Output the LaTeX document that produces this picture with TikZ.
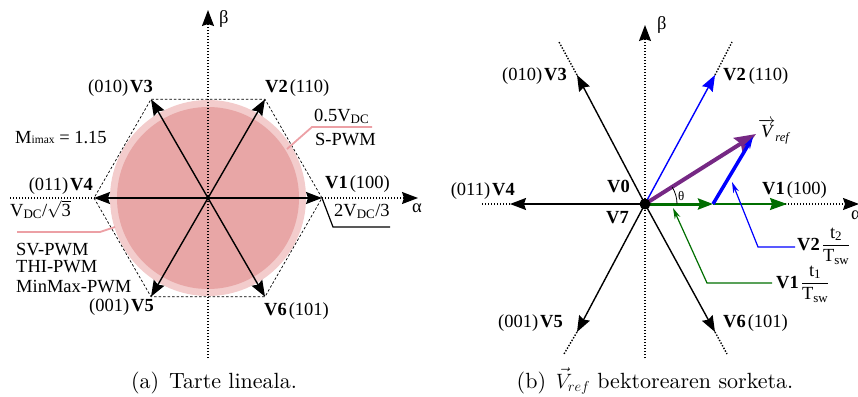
\documentclass[tikz,border=0pt]{standalone}
\usepackage{fontspec}
\usetikzlibrary{arrows.meta}
\newfontfamily\tnr{Liberation Serif}
\newfontfamily\lmten{lmroman10-regular.otf}
\definecolor{pinkin}{RGB}{232,166,166}
\definecolor{pinkout}{RGB}{243,204,204}
\definecolor{pinkline}{RGB}{236,160,165}
\definecolor{vgreen}{RGB}{0,110,0}
\definecolor{vpurple}{RGB}{118,40,132}
\newcommand\lblfont{\fontsize{18.5}{22}\selectfont\tnr}
\begin{document}
\begin{tikzpicture}[x=1pt,y=-1pt,
  lbl/.style={font=\lblfont, inner sep=0pt},
  captxt/.style={font=\fontsize{22}{25}\selectfont\lmten, inner sep=0pt},
  vec/.style={line width=1.4pt,-{Stealth[length=16pt,width=12pt,inset=2pt]}},
  axisline/.style={line width=1.4pt, dash pattern=on 1.4pt off 1.6pt},
  axisarrow/.style={axisline,-{Stealth[length=16pt,width=12pt,inset=2pt]}},
  hexline/.style={line width=0.7pt, dash pattern=on 2.5pt off 2pt},
  callout/.style={line width=1.8pt, pinkline},
  smallhead/.style={-{Stealth[length=11pt,width=6pt]}},
]
\useasboundingbox (0,0) rectangle (858,396);
% ---------------- left diagram ----------------
\coordinate (C1) at (208,198);
\fill[pinkout] (C1) circle[radius=98];
\fill[pinkin] (C1) circle[radius=91];
\coordinate (H1) at (322,198);
\coordinate (H2) at (265,99.3);
\coordinate (H3) at (151,99.3);
\coordinate (H4) at (94,198);
\coordinate (H5) at (151,296.7);
\coordinate (H6) at (265,296.7);
\draw[hexline] (H1)--(H2)--(H3)--(H4)--(H5)--(H6)--cycle;
\coordinate (A1l) at (10,198);
\coordinate (A1r) at (418,198);
\coordinate (B1b) at (208,358);
\coordinate (B1t) at (208,10);
\draw[axisarrow] (A1l) -- (A1r);
\draw[axisarrow] (B1b) -- (B1t);
\foreach \h in {H1,H2,H3,H4,H5,H6} \draw[vec] (C1) -- (\h);
\coordinate (P1a) at (372,127);
\coordinate (P1b) at (312,127);
\coordinate (P1c) at (287,149);
\draw[callout] (P1a) -- (P1b) -- (P1c);
\coordinate (P2a) at (17,232);
\coordinate (P2b) at (100,232);
\coordinate (P2c) at (115,227);
\draw[callout] (P2a) -- (P2b) -- (P2c);
\coordinate (K1) at (333,227);
\coordinate (K2) at (390,227);
\draw[line width=1.2pt] (H1) -- (K1) -- (K2);
\node[lbl, anchor=base east] (l3) at (153,92) {(010)\hspace{2pt}\textbf{V3}};
\node[lbl, anchor=base west] (l2) at (265,92) {\textbf{V2}\hspace{2pt}(110)};
\node[lbl, anchor=base west] (l05) at (314,121) {0.5V\textsubscript{DC}};
\node[lbl, anchor=base west] (lspwm) at (315,145) {S-PWM};
\node[lbl, anchor=base west] (lm) at (15,143) {M{\fontsize{11.5}{11.5}\selectfont imax} = 1.15};
\node[lbl, anchor=base east] (l4) at (93,190) {(011)\hspace{2pt}\textbf{V4}};
\node[lbl, anchor=base west] (l1) at (325,188) {\textbf{V1}\hspace{2pt}(100)};
\node[lbl, anchor=base west] (lvdc) at (10,216) {V\textsubscript{DC}/$\sqrt{\mbox{3}}$};
\node[lbl, anchor=base west] (lsv) at (16,255) {SV-PWM};
\node[lbl, anchor=base west] (lthi) at (16,272) {THI-PWM};
\node[lbl, anchor=base west] (lmm) at (16,292) {MinMax-PWM};
\node[lbl, anchor=base west] (l2v) at (334,216) {2V\textsubscript{DC}/3};
\node[lbl, anchor=base east] (l5) at (154,311) {(001)\hspace{2pt}\textbf{V5}};
\node[lbl, anchor=base west] (l6) at (264,315) {\textbf{V6}\hspace{2pt}(101)};
\node[lbl, anchor=base west] (lb1) at (219,24) {β};
\node[lbl, anchor=base west] (la1) at (412,212) {α};
\node[captxt, anchor=base] (capa) at (214,388) {(a)\hspace{0.45em}Tarte lineala.};
% ---------------- right diagram ----------------
\coordinate (C2) at (645,204);
\coordinate (A2l) at (482,204);
\coordinate (A2r) at (859,204);
\coordinate (B2b) at (645,358);
\coordinate (B2t) at (645,25);
\draw[axisarrow] (A2l) -- (A2r);
\draw[axisarrow] (B2b) -- (B2t);
\coordinate (V4t) at (510,204);
\coordinate (V3t) at (577,75);
\coordinate (V3e) at (559,42);
\coordinate (V2t) at (715,75);
\coordinate (V2e) at (732,42);
\coordinate (V5t) at (577,332);
\coordinate (V5e) at (564,354);
\coordinate (V6t) at (715,332);
\coordinate (V6e) at (727,354);
\draw[axisline] (V3t) -- (V3e);
\draw[axisline] (V2t) -- (V2e);
\draw[axisline] (V5t) -- (V5e);
\draw[axisline] (V6t) -- (V6e);
\draw[vec] (C2) -- (V4t);
\draw[vec] (C2) -- (V3t);
\draw[vec] (C2) -- (V5t);
\draw[vec] (C2) -- (V6t);
\draw[vec, blue] (C2) -- (V2t);
\coordinate (G1) at (713,204);
\coordinate (V1t) at (787,204);
\draw[vgreen, line width=1.8pt, -{Stealth[length=17pt,width=12pt,inset=2pt]}] (G1) -- (V1t);
\draw[vgreen, line width=3pt, -{Stealth[length=15pt,width=11pt,inset=2pt]}] (C2) -- (G1);
\coordinate (Vref) at (756,134);
\draw[vpurple, line width=4pt, -{Stealth[length=21pt,width=17pt,inset=3pt]}] (C2) -- (Vref);
\coordinate (B2) at (753,137);
\draw[blue, line width=3.5pt, -{Stealth[length=12pt,width=7pt]}] (G1) -- (B2);
\coordinate (th0) at (677,204);
\draw[line width=0.8pt] (th0) arc[start angle=0, end angle=-32, radius=32];
\fill (C2) circle[radius=5.5];
\coordinate (Q1a) at (795,247);
\coordinate (Q1b) at (758,247);
\coordinate (Q1c) at (732,182);
\draw[blue, line width=1.2pt, smallhead] (Q1a) -- (Q1b) -- (Q1c);
\coordinate (Q2a) at (772,283);
\coordinate (Q2b) at (707,283);
\coordinate (Q2c) at (673,208);
\draw[vgreen, line width=1.2pt, smallhead] (Q2a) -- (Q2b) -- (Q2c);
\node[lbl, anchor=base east] (r3) at (567,80) {(010)\hspace{2pt}\textbf{V3}};
\node[lbl, anchor=base west] (r2) at (723,80) {\textbf{V2}\hspace{3pt}(110)};
\node[lbl, anchor=base west] (rb) at (657,30) {β};
\node[lbl, anchor=base west] (rvref) at (758,137) {\itshape$\overrightarrow{\mbox{V}}$\raisebox{-4pt}{\fontsize{12.5}{12.5}\selectfont ref}};
\node[lbl, anchor=base west] (r0) at (607,192) {\textbf{V0}};
\node[lbl, anchor=base west] (rth) at (678,200) {\fontsize{13}{13}\selectfont θ};
\node[lbl, anchor=base east] (r4) at (515,195) {(011)\hspace{2pt}\textbf{V4}};
\node[lbl, anchor=base west] (r1) at (762,194) {\textbf{V1}\hspace{2pt}(100)};
\node[lbl, anchor=base west] (r7) at (606,223) {\textbf{V7}};
\node[lbl, anchor=base west] (rt2) at (797,250) {\textbf{V2}\hspace{2pt}$\displaystyle\frac{\mbox{t\textsubscript{2}}}{\mbox{T\textsubscript{sw}}}$};
\node[lbl, anchor=base west] (rt1) at (776,288) {\textbf{V1}\hspace{2pt}$\displaystyle\frac{\mbox{t\textsubscript{1}}}{\mbox{T\textsubscript{sw}}}$};
\node[lbl, anchor=base east] (r5) at (563,327) {(001)\hspace{2pt}\textbf{V5}};
\node[lbl, anchor=base west] (r6) at (723,327) {\textbf{V6}\hspace{2pt}(101)};
\node[lbl, anchor=base west] (ra) at (851,219) {α};
\node[captxt, anchor=base] (capb) at (655,388) {(b)\hspace{0.45em}$\vec{V}_{ref}$ bektorearen sorketa.};
\end{tikzpicture}
\end{document}
